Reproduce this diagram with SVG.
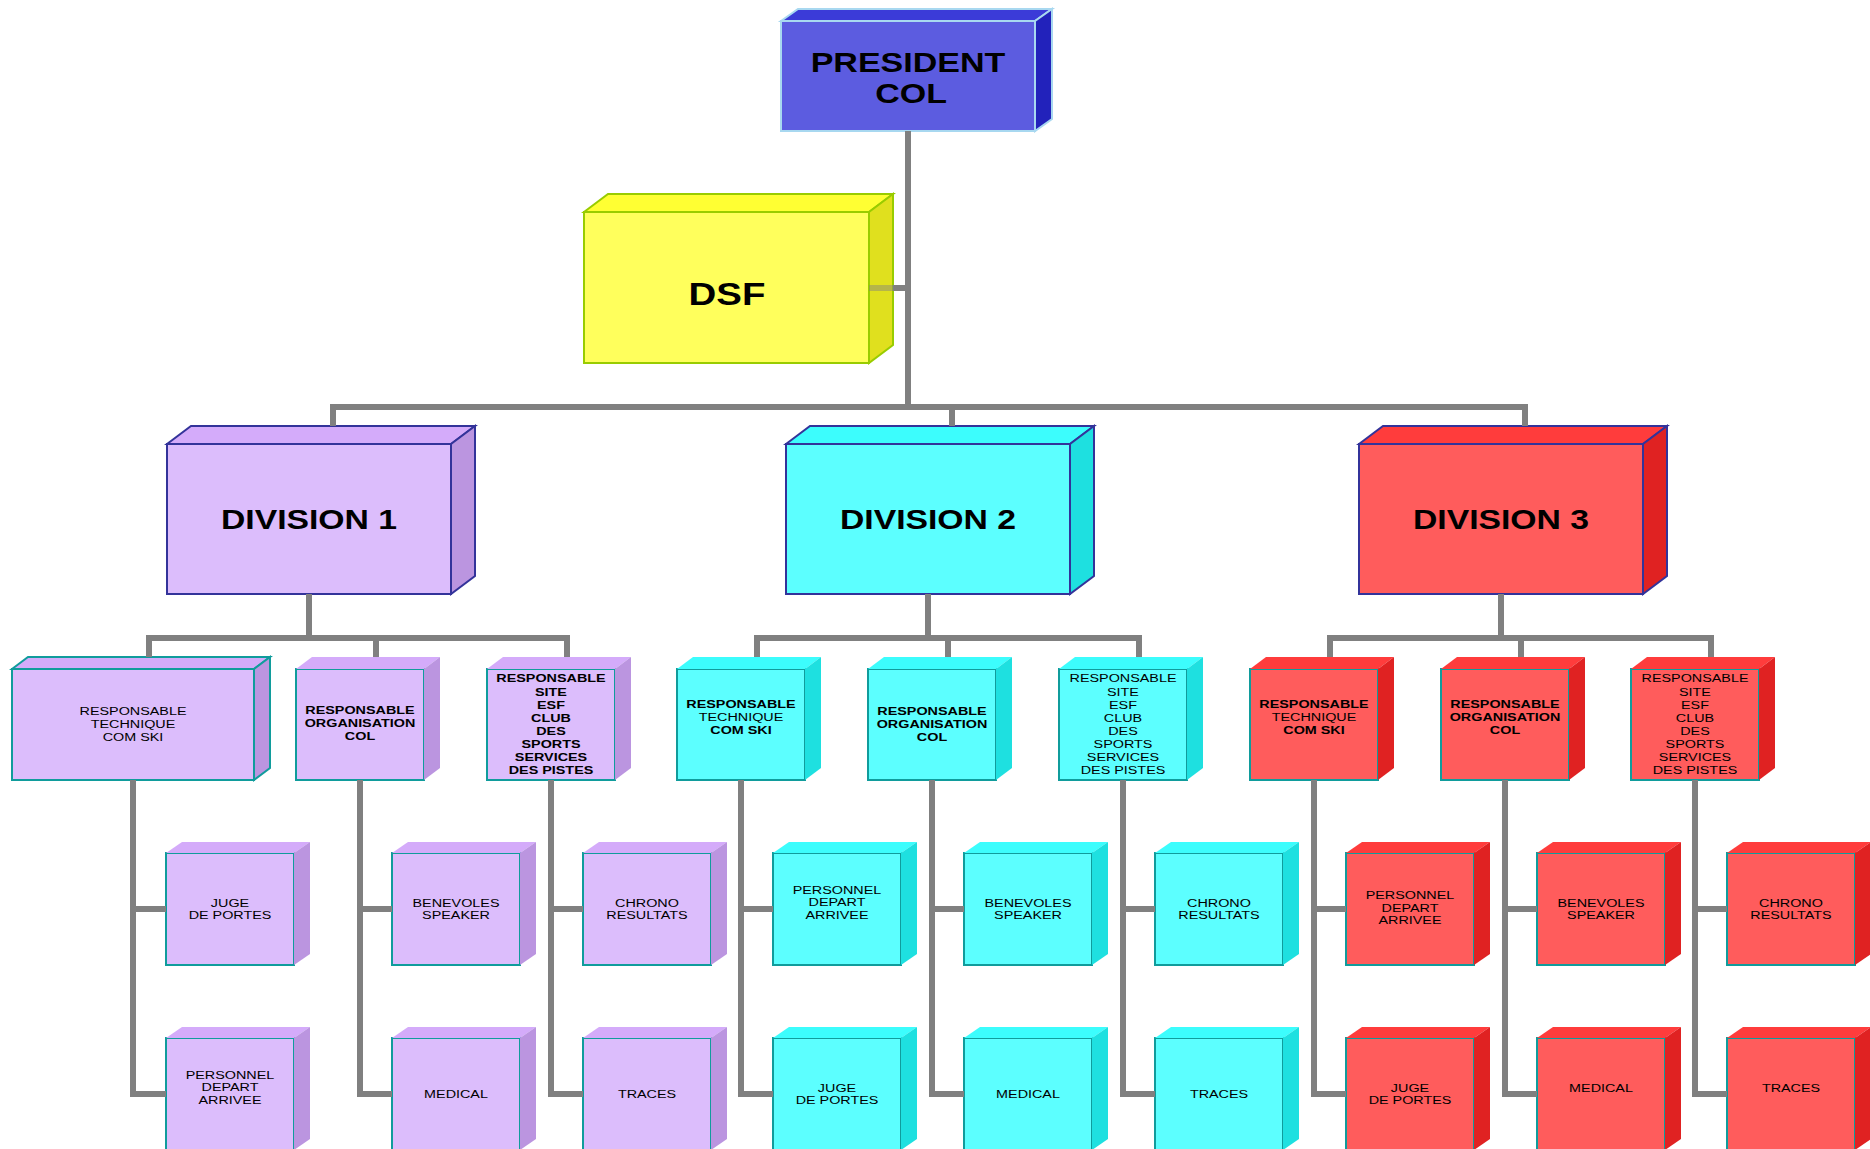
<svg xmlns="http://www.w3.org/2000/svg" width="1870" height="1149" viewBox="0 0 1870 1149">
<style>
.c{fill:none;stroke:#808080;stroke-width:6}
.b rect,.b polygon{stroke-width:2;stroke-linejoin:miter}
.pr .f{fill:#5C5CE0}.pr .t{fill:#3B3BD8}.pr .s{fill:#2222BB}.pr rect,.pr polygon{stroke:#A8D8F0}
.ds .f{fill:#FFFF5C}.ds .t{fill:#FFFF33}.ds .s{fill:#E0E01E}.ds rect,.ds polygon{stroke:#99CC00}
.lav .f{fill:#DCBDFC}.lav .t{fill:#D4ABFA}.lav .s{fill:#BB95E0}
.cy .f{fill:#5CFFFF}.cy .t{fill:#3CFDFD}.cy .s{fill:#1EE0E0}
.rd .f{fill:#FF5C5C}.rd .t{fill:#FF3C3C}.rd .s{fill:#E02222}
.dv rect,.dv polygon{stroke:#33339A}
.sm rect,.sm polygon{stroke:#109C9C}
text{font-family:"Liberation Sans",Arial,sans-serif;text-anchor:middle;fill:#000}
.big{font-weight:bold;font-size:27px}
.l{font-size:11.5px}
.bd{font-weight:bold}
</style>
<defs>
<polygon id="t2" points="0,0 16,-12 144,-12 128,0"/>
<polygon id="s2" points="128,0 144,-12 144,99 128,111"/>
<polygon id="t3" points="0,0 16,-11 144,-11 128,0"/>
<polygon id="s3" points="128,0 144,-11 144,101 128,112"/>
</defs>

<g id="president" class="b pr" transform="translate(781 21)">
<rect class="f" x="0" y="0" width="254" height="110"/>
<polygon class="t" points="0,0 17,-12 271,-12 254,0"/>
<polygon class="s" points="254,0 271,-12 271,98 254,110"/>
<g transform="translate(127 0) scale(1.26 1)"><text class="big"><tspan x="0" y="51">PRESIDENT</tspan><tspan x="2.4" y="82">COL</tspan></text></g>
</g>

<g id="dsf" class="b ds" transform="translate(584 212)">
<rect class="f" x="0" y="0" width="285" height="151"/>
<polygon class="t" points="0,0 24,-18 309,-18 285,0"/>
<polygon class="s" points="285,0 309,-18 309,133 285,151"/>
<g transform="translate(143 0) scale(1.2 1)"><text style="font-weight:bold;font-size:32px" x="0" y="93">DSF</text></g>
</g>

<g id="division1" class="b dv lav" transform="translate(167 444)">
<rect class="f" x="0" y="0" width="284" height="150"/>
<polygon class="t" points="0,0 24,-18 308,-18 284,0"/>
<polygon class="s" points="284,0 308,-18 308,132 284,150"/>
<g transform="translate(142 0) scale(1.25 1)"><text class="big" x="0" y="85">DIVISION 1</text></g>
</g>
<g id="division2" class="b dv cy" transform="translate(786 444)">
<rect class="f" x="0" y="0" width="284" height="150"/>
<polygon class="t" points="0,0 24,-18 308,-18 284,0"/>
<polygon class="s" points="284,0 308,-18 308,132 284,150"/>
<g transform="translate(142 0) scale(1.25 1)"><text class="big" x="0" y="85">DIVISION 2</text></g>
</g>
<g id="division3" class="b dv rd" transform="translate(1359 444)">
<rect class="f" x="0" y="0" width="284" height="150"/>
<polygon class="t" points="0,0 24,-18 308,-18 284,0"/>
<polygon class="s" points="284,0 308,-18 308,132 284,150"/>
<g transform="translate(142 0) scale(1.25 1)"><text class="big" x="0" y="85">DIVISION 3</text></g>
</g>

<!-- level 2 -->
<g id="d1-tech" class="b sm lav" transform="translate(12 669)">
<rect class="f" x="0" y="0" width="242" height="111"/>
<polygon class="t" points="0,0 16,-12 258,-12 242,0"/>
<polygon class="s" points="242,0 258,-12 258,99 242,111"/>
<g transform="translate(121 0) scale(1.25 1)"><text class="l"><tspan x="0" y="46.5">RESPONSABLE</tspan><tspan x="0" y="59.5">TECHNIQUE</tspan><tspan x="0" y="72.5">COM SKI</tspan></text></g>
</g>
<g id="d1-org" class="b sm lav" transform="translate(296 669)">
<rect class="f" x="0" y="0" width="128" height="111"/><use href="#t2" class="t"/><use href="#s2" class="s"/>
<g transform="translate(64 0) scale(1.25 1)"><text class="l bd"><tspan x="0" y="45.5">RESPONSABLE</tspan><tspan x="0" y="58.5">ORGANISATION</tspan><tspan x="0" y="71.5">COL</tspan></text></g>
</g>
<g id="d1-site" class="b sm lav" transform="translate(487 669)">
<rect class="f" x="0" y="0" width="128" height="111"/><use href="#t2" class="t"/><use href="#s2" class="s"/>
<g transform="translate(64 0) scale(1.25 1)"><text class="l bd"><tspan x="0" y="13.5">RESPONSABLE</tspan><tspan x="0" y="26.6">SITE</tspan><tspan x="0" y="39.6">ESF</tspan><tspan x="0" y="52.7">CLUB</tspan><tspan x="0" y="65.8">DES</tspan><tspan x="0" y="78.8">SPORTS</tspan><tspan x="0" y="91.9">SERVICES</tspan><tspan x="0" y="105">DES PISTES</tspan></text></g>
</g>
<g id="d2-tech" class="b sm cy" transform="translate(677 669)">
<rect class="f" x="0" y="0" width="128" height="111"/><use href="#t2" class="t"/><use href="#s2" class="s"/>
<g transform="translate(64 0) scale(1.25 1)"><text class="l"><tspan class="bd" x="0" y="39">RESPONSABLE</tspan><tspan x="0" y="52">TECHNIQUE</tspan><tspan class="bd" x="0" y="65">COM SKI</tspan></text></g>
</g>
<g id="d2-org" class="b sm cy" transform="translate(868 669)">
<rect class="f" x="0" y="0" width="128" height="111"/><use href="#t2" class="t"/><use href="#s2" class="s"/>
<g transform="translate(64 0) scale(1.25 1)"><text class="l bd"><tspan x="0" y="46">RESPONSABLE</tspan><tspan x="0" y="59">ORGANISATION</tspan><tspan x="0" y="72">COL</tspan></text></g>
</g>
<g id="d2-site" class="b sm cy" transform="translate(1059 669)">
<rect class="f" x="0" y="0" width="128" height="111"/><use href="#t2" class="t"/><use href="#s2" class="s"/>
<g transform="translate(64 0) scale(1.25 1)"><text class="l"><tspan x="0" y="13.5">RESPONSABLE</tspan><tspan x="0" y="26.6">SITE</tspan><tspan x="0" y="39.6">ESF</tspan><tspan x="0" y="52.7">CLUB</tspan><tspan x="0" y="65.8">DES</tspan><tspan x="0" y="78.8">SPORTS</tspan><tspan x="0" y="91.9">SERVICES</tspan><tspan x="0" y="105">DES PISTES</tspan></text></g>
</g>
<g id="d3-tech" class="b sm rd" transform="translate(1250 669)">
<rect class="f" x="0" y="0" width="128" height="111"/><use href="#t2" class="t"/><use href="#s2" class="s"/>
<g transform="translate(64 0) scale(1.25 1)"><text class="l"><tspan class="bd" x="0" y="39">RESPONSABLE</tspan><tspan x="0" y="52">TECHNIQUE</tspan><tspan class="bd" x="0" y="65">COM SKI</tspan></text></g>
</g>
<g id="d3-org" class="b sm rd" transform="translate(1441 669)">
<rect class="f" x="0" y="0" width="128" height="111"/><use href="#t2" class="t"/><use href="#s2" class="s"/>
<g transform="translate(64 0) scale(1.25 1)"><text class="l bd"><tspan x="0" y="39">RESPONSABLE</tspan><tspan x="0" y="52">ORGANISATION</tspan><tspan x="0" y="65">COL</tspan></text></g>
</g>
<g id="d3-site" class="b sm rd" transform="translate(1631 669)">
<rect class="f" x="0" y="0" width="128" height="111"/><use href="#t2" class="t"/><use href="#s2" class="s"/>
<g transform="translate(64 0) scale(1.25 1)"><text class="l"><tspan x="0" y="13.5">RESPONSABLE</tspan><tspan x="0" y="26.6">SITE</tspan><tspan x="0" y="39.6">ESF</tspan><tspan x="0" y="52.7">CLUB</tspan><tspan x="0" y="65.8">DES</tspan><tspan x="0" y="78.8">SPORTS</tspan><tspan x="0" y="91.9">SERVICES</tspan><tspan x="0" y="105">DES PISTES</tspan></text></g>
</g>

<!-- level 3 division 1 -->
<g id="d1-juge" class="b sm lav" transform="translate(166 853)">
<rect class="f" x="0" y="0" width="128" height="112"/><use href="#t3" class="t"/><use href="#s3" class="s"/>
<g transform="translate(64 0) scale(1.25 1)"><text class="l"><tspan x="0" y="54">JUGE</tspan><tspan x="0" y="66.5">DE PORTES</tspan></text></g>
</g>
<g id="d1-personnel" class="b sm lav" transform="translate(166 1038)">
<rect class="f" x="0" y="0" width="128" height="112"/><use href="#t3" class="t"/><use href="#s3" class="s"/>
<g transform="translate(64 0) scale(1.25 1)"><text class="l"><tspan x="0" y="41">PERSONNEL</tspan><tspan x="0" y="53.5">DEPART</tspan><tspan x="0" y="66">ARRIVEE</tspan></text></g>
</g>
<g id="d1-benevoles" class="b sm lav" transform="translate(392 853)">
<rect class="f" x="0" y="0" width="128" height="112"/><use href="#t3" class="t"/><use href="#s3" class="s"/>
<g transform="translate(64 0) scale(1.25 1)"><text class="l"><tspan x="0" y="54">BENEVOLES</tspan><tspan x="0" y="66.5">SPEAKER</tspan></text></g>
</g>
<g id="d1-medical" class="b sm lav" transform="translate(392 1038)">
<rect class="f" x="0" y="0" width="128" height="112"/><use href="#t3" class="t"/><use href="#s3" class="s"/>
<g transform="translate(64 0) scale(1.25 1)"><text class="l" x="0" y="60">MEDICAL</text></g>
</g>
<g id="d1-chrono" class="b sm lav" transform="translate(583 853)">
<rect class="f" x="0" y="0" width="128" height="112"/><use href="#t3" class="t"/><use href="#s3" class="s"/>
<g transform="translate(64 0) scale(1.25 1)"><text class="l"><tspan x="0" y="54">CHRONO</tspan><tspan x="0" y="66.5">RESULTATS</tspan></text></g>
</g>
<g id="d1-traces" class="b sm lav" transform="translate(583 1038)">
<rect class="f" x="0" y="0" width="128" height="112"/><use href="#t3" class="t"/><use href="#s3" class="s"/>
<g transform="translate(64 0) scale(1.25 1)"><text class="l" x="0" y="60">TRACES</text></g>
</g>

<!-- level 3 division 2 -->
<g id="d2-personnel" class="b sm cy" transform="translate(773 853)">
<rect class="f" x="0" y="0" width="128" height="112"/><use href="#t3" class="t"/><use href="#s3" class="s"/>
<g transform="translate(64 0) scale(1.25 1)"><text class="l"><tspan x="0" y="41">PERSONNEL</tspan><tspan x="0" y="53.5">DEPART</tspan><tspan x="0" y="66">ARRIVEE</tspan></text></g>
</g>
<g id="d2-juge" class="b sm cy" transform="translate(773 1038)">
<rect class="f" x="0" y="0" width="128" height="112"/><use href="#t3" class="t"/><use href="#s3" class="s"/>
<g transform="translate(64 0) scale(1.25 1)"><text class="l"><tspan x="0" y="54">JUGE</tspan><tspan x="0" y="66.5">DE PORTES</tspan></text></g>
</g>
<g id="d2-benevoles" class="b sm cy" transform="translate(964 853)">
<rect class="f" x="0" y="0" width="128" height="112"/><use href="#t3" class="t"/><use href="#s3" class="s"/>
<g transform="translate(64 0) scale(1.25 1)"><text class="l"><tspan x="0" y="54">BENEVOLES</tspan><tspan x="0" y="66.5">SPEAKER</tspan></text></g>
</g>
<g id="d2-medical" class="b sm cy" transform="translate(964 1038)">
<rect class="f" x="0" y="0" width="128" height="112"/><use href="#t3" class="t"/><use href="#s3" class="s"/>
<g transform="translate(64 0) scale(1.25 1)"><text class="l" x="0" y="60.5">MEDICAL</text></g>
</g>
<g id="d2-chrono" class="b sm cy" transform="translate(1155 853)">
<rect class="f" x="0" y="0" width="128" height="112"/><use href="#t3" class="t"/><use href="#s3" class="s"/>
<g transform="translate(64 0) scale(1.25 1)"><text class="l"><tspan x="0" y="54">CHRONO</tspan><tspan x="0" y="66.5">RESULTATS</tspan></text></g>
</g>
<g id="d2-traces" class="b sm cy" transform="translate(1155 1038)">
<rect class="f" x="0" y="0" width="128" height="112"/><use href="#t3" class="t"/><use href="#s3" class="s"/>
<g transform="translate(64 0) scale(1.25 1)"><text class="l" x="0" y="60.5">TRACES</text></g>
</g>

<!-- level 3 division 3 -->
<g id="d3-personnel" class="b sm rd" transform="translate(1346 853)">
<rect class="f" x="0" y="0" width="128" height="112"/><use href="#t3" class="t"/><use href="#s3" class="s"/>
<g transform="translate(64 0) scale(1.25 1)"><text class="l"><tspan x="0" y="46.5">PERSONNEL</tspan><tspan x="0" y="59">DEPART</tspan><tspan x="0" y="71.5">ARRIVEE</tspan></text></g>
</g>
<g id="d3-juge" class="b sm rd" transform="translate(1346 1038)">
<rect class="f" x="0" y="0" width="128" height="112"/><use href="#t3" class="t"/><use href="#s3" class="s"/>
<g transform="translate(64 0) scale(1.25 1)"><text class="l"><tspan x="0" y="54">JUGE</tspan><tspan x="0" y="66.5">DE PORTES</tspan></text></g>
</g>
<g id="d3-benevoles" class="b sm rd" transform="translate(1537 853)">
<rect class="f" x="0" y="0" width="128" height="112"/><use href="#t3" class="t"/><use href="#s3" class="s"/>
<g transform="translate(64 0) scale(1.25 1)"><text class="l"><tspan x="0" y="54">BENEVOLES</tspan><tspan x="0" y="66.5">SPEAKER</tspan></text></g>
</g>
<g id="d3-medical" class="b sm rd" transform="translate(1537 1038)">
<rect class="f" x="0" y="0" width="128" height="112"/><use href="#t3" class="t"/><use href="#s3" class="s"/>
<g transform="translate(64 0) scale(1.25 1)"><text class="l" x="0" y="54">MEDICAL</text></g>
</g>
<g id="d3-chrono" class="b sm rd" transform="translate(1727 853)">
<rect class="f" x="0" y="0" width="128" height="112"/><use href="#t3" class="t"/><use href="#s3" class="s"/>
<g transform="translate(64 0) scale(1.25 1)"><text class="l"><tspan x="0" y="54">CHRONO</tspan><tspan x="0" y="66.5">RESULTATS</tspan></text></g>
</g>
<g id="d3-traces" class="b sm rd" transform="translate(1727 1038)">
<rect class="f" x="0" y="0" width="128" height="112"/><use href="#t3" class="t"/><use href="#s3" class="s"/>
<g transform="translate(64 0) scale(1.25 1)"><text class="l" x="0" y="54">TRACES</text></g>
</g>

<g id="connectors" class="c">
<path d="M908 131V407"/>
<path d="M333 426V407H1525V426M952 407V426"/>
<path d="M893 288H908"/>
<path d="M869 288H893" stroke-opacity="0.45"/>
<path d="M309 594V638M149 657V638H567V657M376 638V657"/>
<path d="M928 594V638M757 657V638H1139V657M948 638V657"/>
<path d="M1501 594V638M1330 657V638H1711V657M1521 638V657"/>
<path d="M133 780V1094H166M133 909H166"/>
<path d="M360 780V1094H392M360 909H392"/>
<path d="M551 780V1094H583M551 909H583"/>
<path d="M741 780V1094H773M741 909H773"/>
<path d="M932 780V1094H964M932 909H964"/>
<path d="M1123 780V1094H1155M1123 909H1155"/>
<path d="M1314 780V1094H1346M1314 909H1346"/>
<path d="M1505 780V1094H1537M1505 909H1537"/>
<path d="M1695 780V1094H1727M1695 909H1727"/>
</g>
</svg>
